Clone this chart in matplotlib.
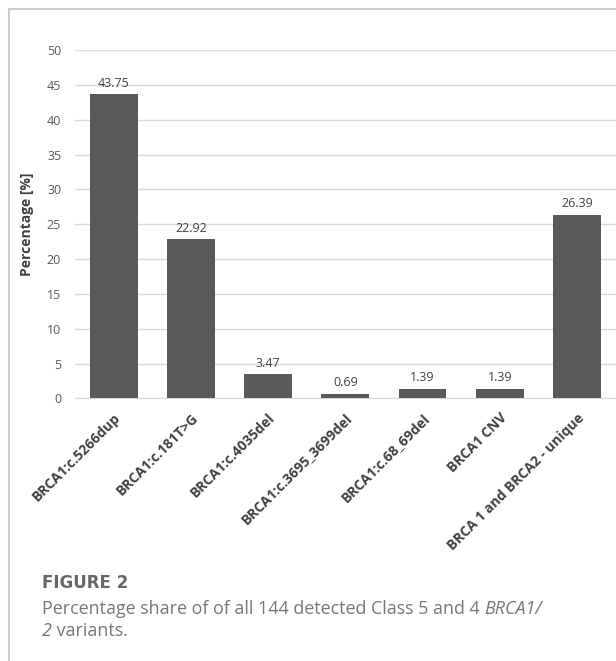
import matplotlib
matplotlib.use("Agg")
import matplotlib.pyplot as plt
from matplotlib.lines import Line2D

variants = ['BRCA1:c.5266dup', 'BRCA1:c.181T>G', 'BRCA1:c.4035del',
            'BRCA1:c.3695_3699del', 'BRCA1:c.68_69del', 'BRCA1 CNV',
            'BRCA 1 and BRCA2 - unique']
shares = [43.75, 22.92, 3.47, 0.69, 1.39, 1.39, 26.39]
yticks = [0, 5, 10, 15, 20, 25, 30, 35, 40, 45, 50]

fig = plt.figure(figsize=(6.16, 6.61), dpi=100)
ax = fig.add_axes([0.1218, 0.3974, 0.8776, 0.5266])

x = list(range(len(variants)))
ax.bar(x, shares, width=0.62, color='#595959', zorder=3)
for xi, v in zip(x, shares):
    ax.annotate(f'{v:.2f}', (xi, v), xytext=(0, 3), textcoords='offset points',
                ha='center', va='bottom', fontsize=9, color='#404040',
                family='Open Sans')

ax.set_xlim(-0.5, len(variants) - 0.5)
ax.set_ylim(0, 50)
ax.set_yticks(yticks)
ax.grid(axis='y', color='#d9d9d9', linewidth=1, zorder=0)
for s in ['top', 'right', 'left']:
    ax.spines[s].set_visible(False)
ax.spines['bottom'].set_color('#d9d9d9')
ax.tick_params(axis='both', length=0)
ax.tick_params(axis='y', pad=10, labelsize=9, labelcolor='#595959')
ax.set_yticklabels([str(t) for t in yticks], family='Open Sans')
ax.set_xticks(x)
ax.set_xticklabels(variants, rotation=45, ha='right', va='top',
                   rotation_mode='anchor', fontsize=10, fontweight='bold',
                   color='#404040', family='Open Sans')
ax.tick_params(axis='x', pad=9)
ax.set_ylabel('Percentage [%]', fontsize=10, fontweight='bold',
              color='#404040', family='Open Sans', labelpad=9)

# figure frame (article panel border)
fig.add_artist(Line2D([9 / 616, 9 / 616], [0, 1 - 9 / 661], transform=fig.transFigure,
                      color='#cccccc', linewidth=1.5))
fig.add_artist(Line2D([9 / 616, 1], [1 - 9 / 661, 1 - 9 / 661], transform=fig.transFigure,
                      color='#cccccc', linewidth=1.5))

fig.text(42 / 616, 1 - 583 / 661, 'FIGURE 2', fontsize=12, fontweight='bold',
         color='#666666', va='center', family='DejaVu Sans')


def caption_line(y, parts):
    # parts: list of (text, italic) placed one after the other
    renderer = fig.canvas.get_renderer()
    xpix = 42
    for txt, italic in parts:
        t = fig.text(xpix / 616, 1 - y / 661, txt, fontsize=12.9, color='#777777',
                     va='baseline', family='Open Sans',
                     style='italic' if italic else 'normal')
        xpix += t.get_window_extent(renderer).width


caption_line(614, [('Percentage share of of all 144 detected Class 5 and 4 ', False),
                   ('BRCA1/', True)])
caption_line(636, [('2', True), (' variants.', False)])

fig.savefig('out.png', dpi=100)
